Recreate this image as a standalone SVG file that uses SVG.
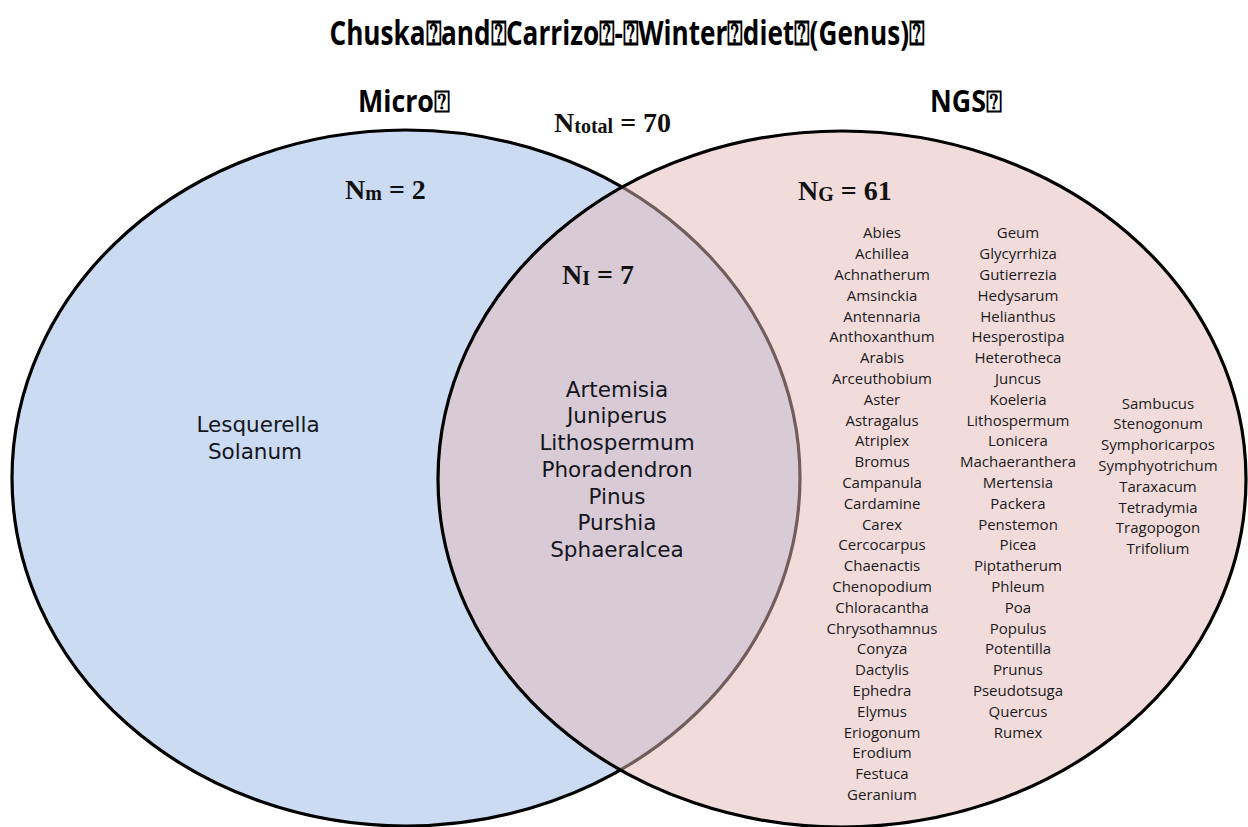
<svg xmlns="http://www.w3.org/2000/svg" width="1248" height="827" viewBox="0 0 1248 827">
<style>
.title{font-family:"Open Sans","Liberation Sans","DejaVu Sans",sans-serif;font-weight:bold;fill:#000}
.setlbl{font-family:"Open Sans","Liberation Sans","DejaVu Sans",sans-serif;font-weight:bold;font-size:30px;fill:#000}
.nlbl{font-family:"Liberation Serif","DejaVu Serif",serif;font-weight:bold;font-size:28px;fill:#111}
.sub{font-size:20px}
.big{font-family:"DejaVu Sans","Liberation Sans",sans-serif;font-size:21.5px;fill:#151520;text-anchor:middle}
.small{font-family:"Open Sans","Liberation Sans",sans-serif;font-size:15px;fill:#1a1a22;text-anchor:middle}
.ell{stroke:#000;stroke-width:3.2}
</style>
<rect width="1248" height="827" fill="#fff"/>
<g id="set-micro">
<ellipse class="ell" cx="406" cy="478" rx="394" ry="348" fill="#cbdcf2"/>
</g>
<g id="set-ngs">
<ellipse class="ell" cx="842" cy="479" rx="404" ry="348" fill="#e6b9b8" fill-opacity="0.5"/>
</g>
<g id="connectors"/>
<g id="title">
<text class="title" x="627" y="45" font-size="34" text-anchor="middle" textLength="595" lengthAdjust="spacingAndGlyphs">Chuska⍰and⍰Carrizo⍰-⍰Winter⍰diet⍰(Genus)⍰</text>
</g>
<g id="label-micro"><text class="setlbl" x="358" y="112" textLength="92" lengthAdjust="spacingAndGlyphs">Micro⍰</text></g>
<g id="label-ngs"><text class="setlbl" x="930" y="112" textLength="72" lengthAdjust="spacingAndGlyphs">NGS⍰</text></g>
<g id="n-total"><text class="nlbl" x="554" y="132">N<tspan class="sub" dy="1">total</tspan><tspan dy="-1"> = 70</tspan></text></g>
<g id="n-micro"><text class="nlbl" x="345" y="199">N<tspan class="sub" dy="1">m</tspan><tspan dy="-1"> = 2</tspan></text></g>
<g id="n-intersect"><text class="nlbl" x="562" y="284">N<tspan class="sub" dy="1">I</tspan><tspan dy="-1"> = 7</tspan></text></g>
<g id="n-ngs"><text class="nlbl" x="798" y="200">N<tspan class="sub" dy="1">G</tspan><tspan dy="-1"> = 61</tspan></text></g>
<g id="list-micro">
<text class="big" x="258" y="431.7">Lesquerella</text>
<text class="big" x="255" y="459.3">Solanum</text>
</g>
<g id="list-intersect">
<text class="big" x="617" y="396.7">Artemisia</text>
<text class="big" x="617" y="423.4">Juniperus</text>
<text class="big" x="617" y="450.1">Lithospermum</text>
<text class="big" x="617" y="476.8">Phoradendron</text>
<text class="big" x="617" y="503.5">Pinus</text>
<text class="big" x="617" y="530.2">Purshia</text>
<text class="big" x="617" y="556.9">Sphaeralcea</text>
</g>
<g id="list-ngs-1">
<text class="small" x="882" y="238.3">Abies</text>
<text class="small" x="882" y="259.1">Achillea</text>
<text class="small" x="882" y="279.9">Achnatherum</text>
<text class="small" x="882" y="300.7">Amsinckia</text>
<text class="small" x="882" y="321.5">Antennaria</text>
<text class="small" x="882" y="342.3">Anthoxanthum</text>
<text class="small" x="882" y="363.1">Arabis</text>
<text class="small" x="882" y="383.9">Arceuthobium</text>
<text class="small" x="882" y="404.7">Aster</text>
<text class="small" x="882" y="425.5">Astragalus</text>
<text class="small" x="882" y="446.3">Atriplex</text>
<text class="small" x="882" y="467.1">Bromus</text>
<text class="small" x="882" y="487.9">Campanula</text>
<text class="small" x="882" y="508.7">Cardamine</text>
<text class="small" x="882" y="529.5">Carex</text>
<text class="small" x="882" y="550.3">Cercocarpus</text>
<text class="small" x="882" y="571.1">Chaenactis</text>
<text class="small" x="882" y="591.9">Chenopodium</text>
<text class="small" x="882" y="612.7">Chloracantha</text>
<text class="small" x="882" y="633.5">Chrysothamnus</text>
<text class="small" x="882" y="654.3">Conyza</text>
<text class="small" x="882" y="675.1">Dactylis</text>
<text class="small" x="882" y="695.9">Ephedra</text>
<text class="small" x="882" y="716.7">Elymus</text>
<text class="small" x="882" y="737.5">Eriogonum</text>
<text class="small" x="882" y="758.3">Erodium</text>
<text class="small" x="882" y="779.1">Festuca</text>
<text class="small" x="882" y="799.9">Geranium</text>
</g>
<g id="list-ngs-2">
<text class="small" x="1018" y="238.3">Geum</text>
<text class="small" x="1018" y="259.1">Glycyrrhiza</text>
<text class="small" x="1018" y="279.9">Gutierrezia</text>
<text class="small" x="1018" y="300.7">Hedysarum</text>
<text class="small" x="1018" y="321.5">Helianthus</text>
<text class="small" x="1018" y="342.3">Hesperostipa</text>
<text class="small" x="1018" y="363.1">Heterotheca</text>
<text class="small" x="1018" y="383.9">Juncus</text>
<text class="small" x="1018" y="404.7">Koeleria</text>
<text class="small" x="1018" y="425.5">Lithospermum</text>
<text class="small" x="1018" y="446.3">Lonicera</text>
<text class="small" x="1018" y="467.1">Machaeranthera</text>
<text class="small" x="1018" y="487.9">Mertensia</text>
<text class="small" x="1018" y="508.7">Packera</text>
<text class="small" x="1018" y="529.5">Penstemon</text>
<text class="small" x="1018" y="550.3">Picea</text>
<text class="small" x="1018" y="571.1">Piptatherum</text>
<text class="small" x="1018" y="591.9">Phleum</text>
<text class="small" x="1018" y="612.7">Poa</text>
<text class="small" x="1018" y="633.5">Populus</text>
<text class="small" x="1018" y="654.3">Potentilla</text>
<text class="small" x="1018" y="675.1">Prunus</text>
<text class="small" x="1018" y="695.9">Pseudotsuga</text>
<text class="small" x="1018" y="716.7">Quercus</text>
<text class="small" x="1018" y="737.5">Rumex</text>
</g>
<g id="list-ngs-3">
<text class="small" x="1158" y="408.5">Sambucus</text>
<text class="small" x="1158" y="429.3">Stenogonum</text>
<text class="small" x="1158" y="450.1">Symphoricarpos</text>
<text class="small" x="1158" y="470.9">Symphyotrichum</text>
<text class="small" x="1158" y="491.7">Taraxacum</text>
<text class="small" x="1158" y="512.5">Tetradymia</text>
<text class="small" x="1158" y="533.3">Tragopogon</text>
<text class="small" x="1158" y="554.1">Trifolium</text>
</g>
</svg>
